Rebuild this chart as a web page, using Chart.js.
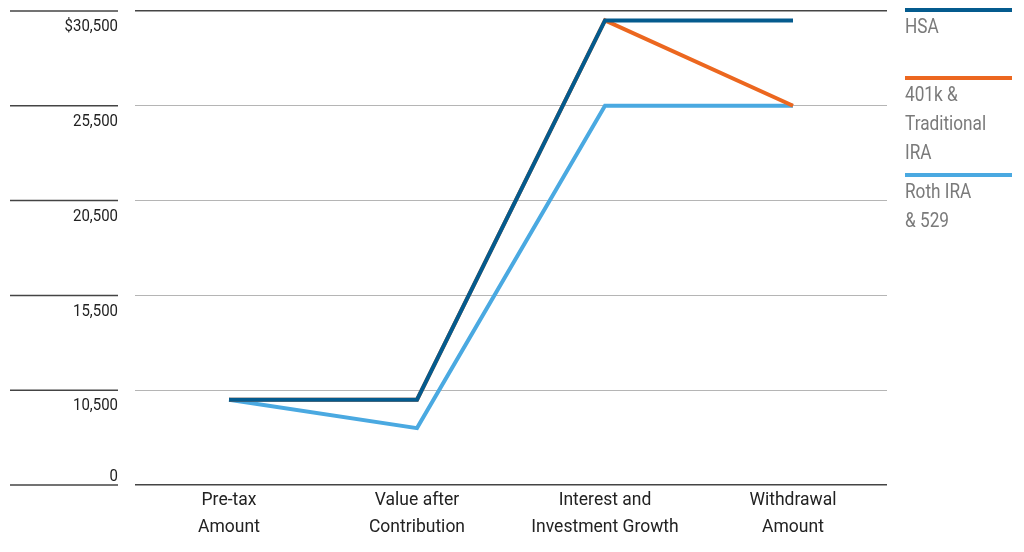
<!DOCTYPE html>
<html>
<head>
<meta charset="utf-8">
<script src="https://cdn.jsdelivr.net/npm/chart.js@4/dist/chart.umd.min.js"></script>
<style>
  html, body { margin: 0; padding: 0; background: #fff; }
  #wrap { width: 1024px; height: 552px; position: relative; }
</style>
</head>
<body>
<div id="wrap"><canvas id="growth-chart" width="1024" height="552"></canvas></div>
<script>
// chart data
const categories = [["Pre-tax", "Amount"], ["Value after", "Contribution"], ["Interest and", "Investment Growth"], ["Withdrawal", "Amount"]];
const hsaValues = [10000, 10000, 30000, 30000];
const traditionalValues = [10000, 10000, 30000, 25500];
const rothValues = [10000, 8500, 25500, 25500];
const yTickValues = [30500, 25500, 20500, 15500, 10500, 5500];
const yTickLabels = ["$30,500", "25,500", "20,500", "15,500", "10,500", "0"];
const legendLabels = [["HSA"], ["401k &", "Traditional", "IRA"], ["Roth IRA", "& 529"]];

const FONT = "Roboto, 'Noto Sans', sans-serif";
const colors = { hsa: "#045b8e", trad: "#ec671f", roth: "#4aa9e1" };

(() => {
  const el = document.getElementById("growth-chart");

  // narrow text: the original uses a condensed face
  function narrowText(ctx, text, x, y, sx) {
    ctx.save();
    ctx.translate(x, y);
    ctx.scale(sx, 1);
    ctx.fillText(text, 0, 0);
    ctx.restore();
  }

  // y tick marks + labels to the left of the plot
  const yAxisPlugin = {
    id: "yAxisLabels",
    afterDraw(chart) {
      const { ctx } = chart;
      const y = chart.scales.y;
      ctx.save();
      ctx.font = "17px " + FONT;
      ctx.fillStyle = "#222";
      ctx.textAlign = "right";
      ctx.textBaseline = "middle";
      yTickValues.forEach((v, i) => {
        const py = y.getPixelForValue(v);
        ctx.strokeStyle = "#444";
        ctx.lineWidth = 1.5;
        ctx.beginPath();
        ctx.moveTo(10, py);
        ctx.lineTo(118, py);
        ctx.stroke();
        const last = i === yTickValues.length - 1;
        narrowText(ctx, yTickLabels[i], 118, last ? py - 8 : py + 16, 0.88);
      });
      ctx.restore();
    },
  };

  // legend on the right: colored bar above wrapped text
  const legendPlugin = {
    id: "sideLegend",
    afterDraw(chart) {
      const { ctx } = chart;
      const x0 = 905, x1 = 1012;
      let top = 10;
      ctx.save();
      ctx.font = "21px " + FONT;
      ctx.textAlign = "left";
      ctx.textBaseline = "alphabetic";
      chart.data.datasets.forEach((ds, i) => {
        ctx.fillStyle = ds.borderColor;
        ctx.fillRect(x0, top - 2, x1 - x0, 4);
        ctx.fillStyle = "#7a7a7a";
        const lines = legendLabels[i];
        lines.forEach((t, j) => narrowText(ctx, t, x0, top + 23 + j * 29, 0.82));
        const n = Math.max(lines.length, 2);
        top = top + 16 + (n - 1) * 29 + 23;
      });
      ctx.restore();
    },
  };

  new Chart(el, {
    type: "line",
    data: {
      labels: categories,
      datasets: [
        { label: "HSA", data: hsaValues, borderColor: colors.hsa },
        { label: "401k & Traditional IRA", data: traditionalValues, borderColor: colors.trad },
        { label: "Roth IRA & 529", data: rothValues, borderColor: colors.roth },
      ].map((d) => ({ ...d, borderWidth: 4, pointRadius: 0, tension: 0, fill: false })),
    },
    options: {
      responsive: false,
      animation: false,
      devicePixelRatio: 1,
      layout: { padding: { top: 11, right: 137, left: 0, bottom: 0 } },
      plugins: { legend: { display: false }, tooltip: { enabled: false } },
      scales: {
        x: {
          offset: true,
          grid: { display: false, drawTicks: false },
          border: { display: false },
          ticks: {
            color: "#222",
            font: { family: FONT, size: 17.5, lineHeight: 1.55 },
            padding: 2,
            maxRotation: 0,
            autoSkip: false,
          },
          afterFit: (s) => { s.height = 67; },
        },
        y: {
          min: 5500,
          max: 30500,
          afterBuildTicks: (s) => { s.ticks = yTickValues.map((v) => ({ value: v })); },
          grid: {
            drawTicks: false,
            lineWidth: (c) => (c.tick && (c.tick.value === 30500 || c.tick.value === 5500) ? 1.5 : 1),
            color: (c) => (c.tick && (c.tick.value === 30500 || c.tick.value === 5500) ? "#444" : "#b5b5b5"),
          },
          border: { display: false },
          ticks: { display: false },
          afterFit: (s) => { s.width = 135; },
        },
      },
    },
    plugins: [yAxisPlugin, legendPlugin],
  });
})();
</script>
</body>
</html>
